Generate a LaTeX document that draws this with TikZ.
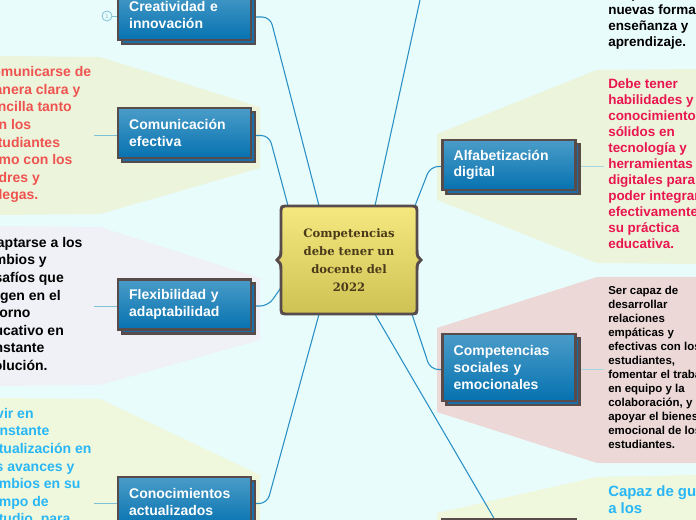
\documentclass[tikz,border=0pt]{standalone}
\usepackage{fontspec}
\setmainfont{Liberation Sans}
\newfontfamily\titlefont{DejaVu Serif}
\usetikzlibrary{calc,shadows}
\definecolor{pagebg}{HTML}{E8FCFC}
\definecolor{blobgreen}{HTML}{ECF5DB}
\definecolor{blobgreenb}{HTML}{EFF8DC}
\definecolor{blobgrey}{HTML}{EFF1F7}
\definecolor{blobrose}{HTML}{ECD9D7}
\definecolor{edgedark}{HTML}{574B4B}
\definecolor{boxtop}{HTML}{4A9CC8}
\definecolor{boxbot}{HTML}{0672B0}
\definecolor{boxshade}{HTML}{1B6FA8}
\definecolor{linkblue}{HTML}{2A8FC4}
\definecolor{stubblue}{HTML}{7EC0D6}
\definecolor{stubpale}{HTML}{A6D6E2}
\definecolor{txtred}{HTML}{EF5350}
\definecolor{txtcrimson}{HTML}{E91550}
\definecolor{txtblue}{HTML}{29B6F6}
\definecolor{titletxt}{HTML}{4A3A1A}
\definecolor{centertop}{HTML}{F4E87F}
\definecolor{centerbot}{HTML}{CFC254}
\pgfdeclarelayer{blobs}
\pgfdeclarelayer{links}
\pgfsetlayers{blobs,links,main}
\tikzset{
  box/.style={draw=edgedark,line width=1.7pt,top color=boxtop,bottom color=boxbot,
    minimum width=99.75pt,text width=83pt,inner xsep=8.4pt,inner ysep=0pt,align=left,
    text=white,font=\bfseries\fontsize{10.5pt}{12.4pt}\selectfont,
    general shadow={shadow xshift=3pt,shadow yshift=-3pt,fill=boxshade,draw=edgedark}},
  leaf/.style={anchor=north west,inner sep=0pt,align=left,
    font=\bfseries\fontsize{10.5pt}{13.15pt}\selectfont},
  leafb/.style={anchor=north west,inner sep=0pt,align=left,
    font=\bfseries\fontsize{10.1pt}{12pt}\selectfont},
  leafc/.style={anchor=north west,inner sep=0pt,align=left,
    font=\bfseries\fontsize{8.6pt}{10.5pt}\selectfont},
  leafd/.style={anchor=north west,inner sep=0pt,align=left,
    font=\bfseries\fontsize{11.2pt}{13pt}\selectfont},
  link/.style={draw=linkblue,line width=.8pt,rounded corners=6pt},
  stub/.style={draw=stubblue,line width=.7pt},
  stubr/.style={draw=stubpale,line width=1.1pt},
}
\begin{document}
\begin{tikzpicture}[x=.75pt,y=-.75pt]
\useasboundingbox (0,0) rectangle (696,520);
\begin{pgfonlayer}{blobs}
\fill[pagebg] (0,0) rectangle (696,520);
\fill[blobgreen] (0,56) -- (100,57) -- (260,107) -- (260,168) -- (100,214) -- (0,215) -- cycle;
\fill[blobgrey] (0,226) -- (100,227) -- (260,278) -- (260,340) -- (100,385) -- (0,386) -- cycle;
\fill[blobgreenb] (0,398) -- (100,399) -- (260,475) -- (260,520) -- (0,520) -- cycle;
\fill[blobgreen] (696,69) -- (597,70) -- (437,134) -- (437,200) -- (597,263) -- (696,264) -- cycle;
\fill[blobrose] (696,277) -- (597,277) -- (437,328) -- (437,412) -- (597,463) -- (696,463) -- cycle;
\fill[blobgreenb] (696,475) -- (597,477) -- (437,513) -- (437,520) -- (696,520) -- cycle;
\end{pgfonlayer}
\clip (0,0) rectangle (696,520);
% central shape
\draw[draw=edgedark,line width=2.2pt,top color=centertop,bottom color=centerbot]
  (285,206) -- (413,206) .. controls (416,206) and (417,207) .. (417,210)
  -- (417,250) .. controls (417,256) and (418,258) .. (421,260)
  .. controls (418,262) and (417,264) .. (417,270)
  -- (417,310) .. controls (417,313) and (416,314) .. (413,314)
  -- (285,314) .. controls (282,314) and (281,313) .. (281,310)
  -- (281,270) .. controls (281,264) and (280,262) .. (277,260)
  .. controls (280,258) and (281,256) .. (281,250)
  -- (281,210) .. controls (281,207) and (282,206) .. (285,206) -- cycle;
\node[minimum width=102pt,minimum height=81pt,inner sep=0pt,align=center,text=titletxt,
  font=\titlefont\bfseries\fontsize{8.7pt}{13.4pt}\selectfont] (c) at (349,260)
  {Competencias\\debe tener un\\docente del\\2022};
% branch boxes
\node[box,minimum height=37.5pt] (b1) at (184.5,15) {Creatividad e\\innovación};
\node[box,minimum height=37.5pt] (b2) at (184.5,133) {Comunicación\\efectiva};
\node[box,minimum height=37.5pt] (b3) at (184.5,304.5) {Flexibilidad y\\adaptabilidad};
\node[box,minimum height=37.5pt] (b4) at (184.5,502) {Conocimientos\\actualizados};
\node[box,minimum height=37.5pt] (b5) at (509,165) {Alfabetización\\digital};
\node[box,minimum height=50pt] (b6) at (509,367.5) {Competencias\\sociales y\\emocionales};
\node[box,minimum height=37.5pt] (b7) at (509,544) {};
% marker
\node[circle,draw=stubblue,fill=pagebg,line width=.6pt,minimum size=7.5pt,inner sep=0pt,
  text=stubblue,font=\fontsize{4.5pt}{5pt}\selectfont] (n1) at (107,16) {1};
% free ends of the stubs
\coordinate (s2) at (94,135.5);
\coordinate (s3) at (94,306);
\coordinate (s4) at (94,503.5);
\coordinate (s5) at (604,166.5);
\coordinate (s6) at (604,369.5);
\coordinate (top) at (420,0);
% leaf texts
\node[leaf,text=txtred] (t2) at (-18,66.5) {Comunicarse de\\manera clara y\\sencilla tanto\\con los\\estudiantes\\como con los\\padres y\\colegas.};
\node[leaf,text=black] (t3) at (-22,237) {Adaptarse a los\\cambios y\\desafíos que\\surgen en el\\entorno\\educativo en\\constante\\evolución.};
\node[leaf,text=txtblue] (t4) at (-17,408) {Vivir en\\constante\\actualización en\\los avances y\\cambios en su\\campo de\\estudio, para};
\node[leafb,text=black] (t1) at (608,-12) {adaptarse a\\nuevas formas de\\enseñanza y\\aprendizaje.};
\node[leafb,text=txtcrimson] (t5) at (608,78) {Debe tener\\habilidades y\\conocimientos\\sólidos en\\tecnología y\\herramientas\\digitales para\\poder integrarlas\\efectivamente en\\su práctica\\educativa.};
\node[leafc,text=black] (t6) at (608,286) {Ser capaz de\\desarrollar\\relaciones\\empáticas y\\efectivas con los\\estudiantes,\\fomentar el trabajo\\en equipo y la\\colaboración, y\\apoyar el bienestar\\emocional de los\\estudiantes.};
\node[leafd,text=txtblue] (t7) at (608,485) {Capaz de guiar\\a los};
\begin{pgfonlayer}{links}
\draw[link] ($(b1.east)+(0,2)$) -- ($(b1.east)+(18,2)$) -- ($(c.north)+(-30,0)$);
\draw[link] ($(b2.east)+(0,2.5)$) -- ($(b2.east)+(17,2.5)$) -- ($(c.north)+(-61,0)$);
\draw[link] ($(b3.east)+(0,1.5)$) -- ($(b3.east)+(16,1.5)$) -- ($(c.west)+(0,28)$);
\draw[link] ($(b4.east)+(0,1.5)$) -- ($(b4.east)+(15,1.5)$) -- ($(c.south)+(-30,0)$);
\draw[link] ($(b5.west)+(0,1.5)$) -- ($(b5.west)+(-11,1.5)$) -- ($(c.north)+(66,0)$);
\draw[link] ($(b6.west)+(0,2)$) -- ($(b6.west)+(-11,2)$) -- ($(c.south)+(63,0)$);
\draw[link] ($(c.north)+(26,0)$) -- (top);
\draw[link] ($(c.south)+(26,0)$) -- (b7);
\draw[stub] (s2) -- (b2.west |- s2);
\draw[stub] (s3) -- (b3.west |- s3);
\draw[stub] (s4) -- (b4.west |- s4);
\draw[stubr] (b5.east |- s5) -- (s5);
\draw[stubr] (b6.east |- s6) -- (s6);
\draw[stub] (n1) -- (b1.west |- n1);
\end{pgfonlayer}
\end{tikzpicture}
\end{document}
